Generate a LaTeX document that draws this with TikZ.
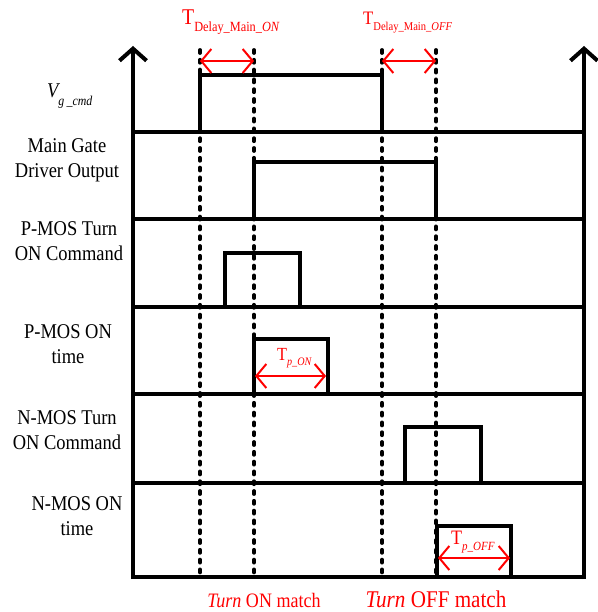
\documentclass[tikz,border=0pt]{standalone}
\usepackage{fontspec}
\setmainfont{Liberation Serif}[FakeStretch=0.88]
\usetikzlibrary{arrows.meta}
\begin{document}
\begin{tikzpicture}[x=1pt,y=-1pt,
  axis/.style={line width=4pt,-{Straight Barb[length=12pt,width=27pt]}},
  rail/.style={line width=3.8pt},
  sig/.style={line width=3.6pt,line join=miter},
  guide/.style={line width=3.8pt,line cap=round,dash pattern=on 3pt off 6.8pt},
  dim/.style={red,line width=2pt,{Straight Barb[length=10pt,width=24pt]}-{Straight Barb[length=10pt,width=24pt]}},
  lbl/.style={font=\fontsize{21}{25}\selectfont,align=center,inner sep=0pt,anchor=base},
  rlbl/.style={red,inner sep=0pt,anchor=base west},
  blbl/.style={red,inner sep=0pt,anchor=base}]
\useasboundingbox (0,0) rectangle (597,612);

% axes
\coordinate (LB) at (133,579);
\coordinate (LT) at (133,46);
\coordinate (RB) at (584,579);
\coordinate (RT) at (584,46);
\draw[axis] (LB) -- (LT);
\draw[axis] (RB) -- (RT);

% rails (baselines)
\foreach \n/\y in {1/132,2/219,3/307,4/394,5/483,6/577}{
  \coordinate (a\n) at (133,\y);
  \coordinate (b\n) at (584,\y);
  \draw[rail] (a\n) -- (b\n);
}

% dashed guide lines
\foreach \n/\x in {1/200,2/254,3/382,4/436}{
  \coordinate (gt\n) at (\x,50);
  \coordinate (gb\n) at (\x,574);
  \draw[guide] (gt\n) -- (gb\n);
}

% waveforms
\draw[sig] (200,132) -- (200,75) -- (382,75) -- (382,132);
\draw[sig] (254,219) -- (254,162) -- (436,162) -- (436,219);
\draw[sig] (225,307) -- (225,253) -- (300,253) -- (300,307);
\draw[sig] (254,394) -- (254,339) -- (328,339) -- (328,394);
\draw[sig] (405,483) -- (405,427) -- (481,427) -- (481,483);
\draw[sig] (437,577) -- (437,526) -- (511,526) -- (511,577);

% red dimension arrows
\coordinate (d1a) at (200,61); \coordinate (d1b) at (254,61);
\coordinate (d2a) at (382,61); \coordinate (d2b) at (436,61);
\coordinate (d3a) at (255,376); \coordinate (d3b) at (326,376);
\coordinate (d4a) at (438,558); \coordinate (d4b) at (510,558);
\draw[dim] (d1a) -- (d1b);
\draw[dim] (d2a) -- (d2b);
\draw[dim] (d3a) -- (d3b);
\draw[dim] (d4a) -- (d4b);

% red labels
\node[rlbl] (tdon) at (182,25) {\fontsize{22.5}{22.5}\selectfont T\raisebox{-7pt}{\fontsize{14}{14}\selectfont Delay\_Main\_\textit{ON}}};
\node[rlbl] (tdoff) at (363,25) {\fontsize{19}{19}\selectfont T\raisebox{-6pt}{\fontsize{12}{12}\selectfont Delay\_Main\_\textit{OFF}}};
\node[rlbl] (tpon) at (277,360) {\fontsize{18.5}{18.5}\selectfont T\raisebox{-5pt}{\fontsize{11.5}{11.5}\selectfont\itshape p\_ON}};
\node[rlbl] (tpoff) at (451,544) {\fontsize{20.5}{20.5}\selectfont T\raisebox{-6pt}{\fontsize{12.5}{12.5}\selectfont\itshape p\_OFF}};

\node[blbl] (onm) at (264,607) {\fontsize{20.5}{20.5}\selectfont\textit{Turn} ON match};
\node[blbl] (offm) at (436,607) {\fontsize{24}{24}\selectfont\textit{Turn} OFF match};

% left labels
\node[inner sep=0pt,anchor=base west] (vg) at (47,98) {\fontsize{21}{21}\selectfont\itshape V\raisebox{-8pt}{\fontsize{13.5}{13.5}\selectfont g\,\_cmd}};
\node[lbl] (l2) at (67,178) {Main Gate\\Driver Output};
\node[lbl] (l3) at (69,260) {P-MOS Turn\\ON Command};
\node[lbl] (l4) at (68,363) {P-MOS ON\\time};
\node[lbl] (l5) at (67,449) {N-MOS Turn\\ON Command};
\node[lbl] (l6) at (77,535) {N-MOS ON\\time};
\end{tikzpicture}
\end{document}
